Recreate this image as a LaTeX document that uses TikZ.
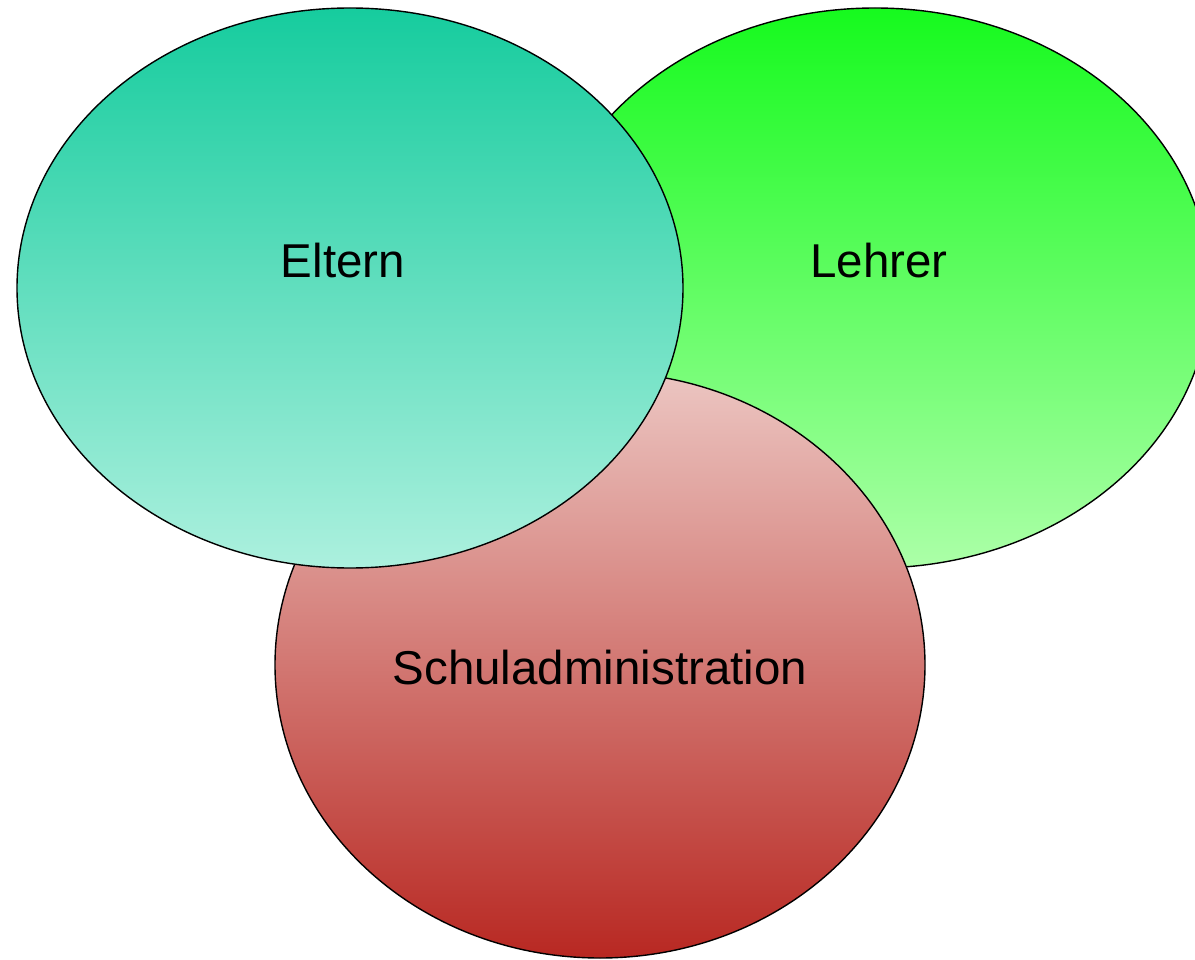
\documentclass[tikz,border=0pt]{standalone}
\usepackage{fontspec}
\setmainfont{Liberation Sans}
\usepackage{tikz}
\usetikzlibrary{shapes.geometric}
\definecolor{tealtop}{RGB}{22,204,158}
\definecolor{tealbot}{RGB}{172,240,222}
\definecolor{greentop}{RGB}{22,250,30}
\definecolor{greenbot}{RGB}{172,255,168}
\definecolor{redtop}{RGB}{236,198,194}
\definecolor{redbot}{RGB}{184,40,34}
\tikzset{
  blob/.style={ellipse, draw=black, line width=1.4pt, inner sep=0pt, outer sep=0pt},
  lbl/.style={anchor=base, font=\fontsize{47.5}{56}\selectfont, text=black}
}

\begin{document}
\begin{tikzpicture}[x=1pt,y=-1pt]
  \clip (0,0) rectangle (1195,960);
  % circles, back to front
  \node[blob, minimum width=670pt, minimum height=560pt, top color=greentop, bottom color=greenbot] (lehrer) at (875,288) {};
  \node[blob, minimum width=650pt, minimum height=586pt, top color=redtop, bottom color=redbot] (admin) at (600,665) {};
  \node[blob, minimum width=666pt, minimum height=560pt, top color=tealtop, bottom color=tealbot] (eltern) at (350,288) {};
  % labels
  \node[lbl] (elternlbl) at (343,278) {Eltern};
  \node[lbl] (lehrerlbl) at (879,278) {Lehrer};
  \node[lbl] (adminlbl) at (600,684) {Schuladministration};
\end{tikzpicture}
\end{document}
